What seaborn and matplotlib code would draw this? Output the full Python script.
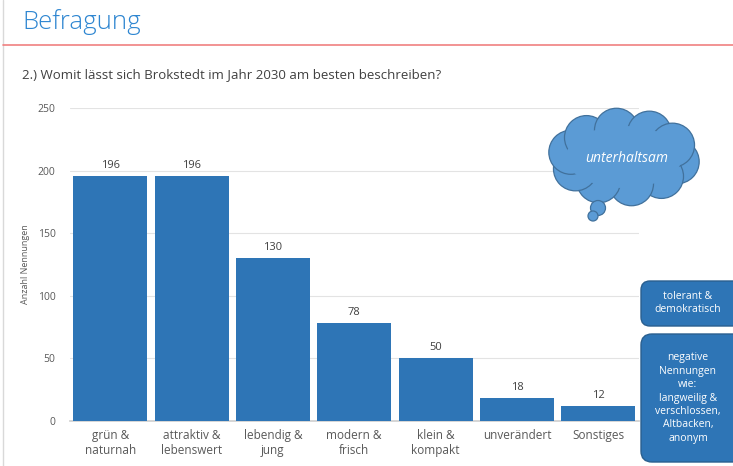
import matplotlib
matplotlib.use("Agg")
import matplotlib.pyplot as plt
import seaborn as sns
import pandas as pd
import numpy as np
from matplotlib.patches import Circle, Ellipse, FancyBboxPatch

categories = ["grün &\nnaturnah", "attraktiv &\nlebenswert", "lebendig &\njung",
              "modern &\nfrisch", "klein &\nkompakt", "unverändert", "Sonstiges"]
values = [196, 196, 130, 78, 50, 18, 12]
yticks = [0, 50, 100, 150, 200, 250]

sns.set_theme(style="white")
plt.rcParams['font.family'] = ['Open Sans', 'DejaVu Sans']

W, H = 733, 466
fig = plt.figure(figsize=(W / 100, H / 100), dpi=100)

bar_color = "#2E75B6"
df = pd.DataFrame({"cat": categories, "val": values})

# chart axes in pixel coordinates
left, right, top, bottom = 69.5, 639, 108, 421
ax = fig.add_axes([left / W, 1 - bottom / H, (right - left) / W, (bottom - top) / H])
sns.barplot(data=df, x="cat", y="val", color=bar_color, width=0.91, saturation=1,
            linewidth=0, edgecolor="none", ax=ax, zorder=3)
ax.set_ylim(0, 250)
ax.set_xlim(-0.5, len(categories) - 0.5)
ax.set_yticks(yticks)
ax.set_yticklabels([str(t) for t in yticks], fontsize=7.5, color="#595959")
ax.tick_params(axis="y", length=0, pad=10)
ax.tick_params(axis="x", length=0, pad=6, labelsize=8.5, labelcolor="#595959")
ax.grid(axis="y", color="#E3E3E3", linewidth=0.8, zorder=0)
for s in ["top", "right", "left"]:
    ax.spines[s].set_visible(False)
ax.spines["bottom"].set_color("#D0D0D0")
ax.set_xlabel("")
ax.set_ylabel("Anzahl Nennungen", fontsize=6.5, color="#595959")
ax.yaxis.set_label_coords((30 - left) / (right - left), 0.5)
for i, v in enumerate(values):
    ax.text(i, v + 4, str(v), ha="center", va="bottom", fontsize=8, color="#404040")

# overlay axes for slide decorations
ov = fig.add_axes([0, 0, 1, 1], zorder=10)
ov.set_xlim(0, W)
ov.set_ylim(H, 0)
ov.axis("off")
ov.patch.set_alpha(0)

ov.plot([3, 3], [0, H], color="#D9D9D9", lw=1)
ov.plot([3, W], [45, 45], color="#F08080", lw=1.2)
ov.text(22, 22, "Befragung", fontsize=18.5, color="#2E86D1", va="center", ha="left",
        fontweight="light")
ov.text(22, 75, "2.) Womit lässt sich Brokstedt im Jahr 2030 am besten beschreiben?",
        fontsize=9.5, color="#404040", va="center", ha="left")

# cloud
cloud_fill = "#5B9BD5"
cloud_edge = "#41719C"
ccx, ccy, a, b = 624, 157, 54, 27
for ang in np.arange(0, 360, 36):
    t = np.deg2rad(ang + 10)
    px, py = ccx + a * np.cos(t), ccy + b * np.sin(t)
    ov.add_patch(Circle((px, py), 22, facecolor=cloud_fill, edgecolor=cloud_edge, lw=0.9))
ov.add_patch(Ellipse((ccx, ccy), 2 * a + 8, 2 * b + 8, facecolor=cloud_fill, edgecolor="none"))
ov.add_patch(Circle((598, 208), 7.5, facecolor=cloud_fill, edgecolor=cloud_edge, lw=0.9))
ov.add_patch(Circle((593, 216), 5, facecolor=cloud_fill, edgecolor=cloud_edge, lw=0.9))
ov.text(627, 158, "unterhaltsam", fontsize=10, color="white", style="italic",
        ha="center", va="center")

# boxes
box_edge = "#2A5F8F"
ov.add_patch(FancyBboxPatch((641, 281), 110, 45, boxstyle="round,pad=0,rounding_size=9",
                            facecolor=bar_color, edgecolor=box_edge, lw=1))
ov.text(688, 303, "tolerant &\ndemokratisch", fontsize=7.5, color="white",
        ha="center", va="center", linespacing=1.3)
ov.add_patch(FancyBboxPatch((641, 334), 110, 128, boxstyle="round,pad=0,rounding_size=11",
                            facecolor=bar_color, edgecolor=box_edge, lw=1))
ov.text(688, 398, "negative\nNennungen\nwie:\nlangweilig &\nverschlossen,\nAltbacken,\nanonym",
        fontsize=7.5, color="white", ha="center", va="center", linespacing=1.3)

fig.savefig("out.png", dpi=100)
